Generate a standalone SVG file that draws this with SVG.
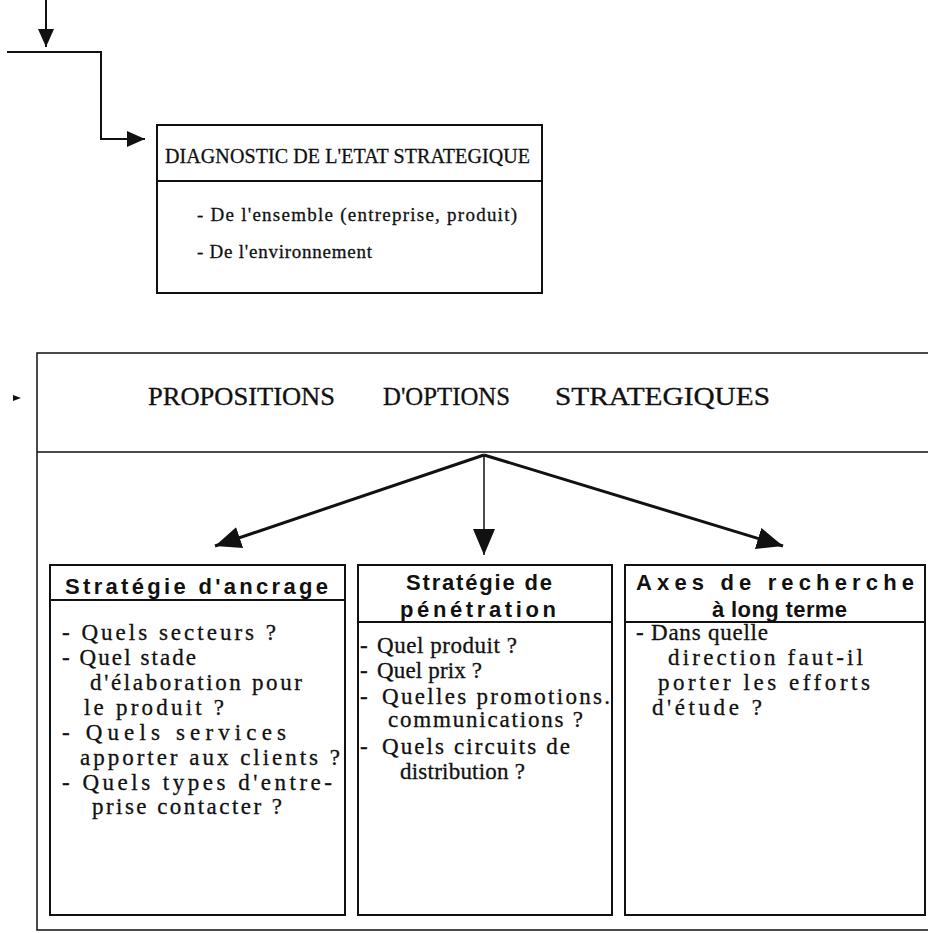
<svg xmlns="http://www.w3.org/2000/svg" width="928" height="933" viewBox="0 0 928 933">
<style>
  .box{fill:none;stroke:#111;stroke-width:2}
  .thin{fill:none;stroke:#111;stroke-width:1.5}
  .serif{font-family:"Liberation Serif","Times New Roman",serif;fill:#111;stroke:#111;stroke-width:0.3}
  .sans{font-family:"Liberation Sans",Arial,sans-serif;font-weight:bold;fill:#111;font-size:22px}
  .body{font-size:23px}
  .con{fill:none;stroke:#111}
</style>
<defs>
  <marker id="head" markerUnits="userSpaceOnUse" markerWidth="30" markerHeight="24" refX="26" refY="11" orient="auto">
    <path d="M0,0 L26,11 L0,22 Z" fill="#111"/>
  </marker>
  <marker id="headS" markerUnits="userSpaceOnUse" markerWidth="22" markerHeight="18" refX="18" refY="8" orient="auto">
    <path d="M0,0 L18,8 L0,16 Z" fill="#111"/>
  </marker>
</defs>
<rect width="928" height="933" fill="#fff"/>

<g id="connectors">
  <line class="con" stroke-width="2" x1="46" y1="0" x2="46" y2="47" marker-end="url(#headS)"/>
  <polyline class="con" stroke-width="2" points="7,52 101,52 101,139 145,139" marker-end="url(#headS)"/>
  <line class="con" stroke-width="3" x1="484" y1="455" x2="215" y2="546" marker-end="url(#head)"/>
  <line class="con" stroke-width="1.5" x1="484" y1="455" x2="484" y2="555" marker-end="url(#head)"/>
  <line class="con" stroke-width="3" x1="484" y1="455" x2="783" y2="546" marker-end="url(#head)"/>
  <path d="M13,395 L21,398 L13,401 Z" fill="#111"/>
</g>

<g id="diagnostic">
  <rect class="box" x="157" y="125" width="385" height="168"/>
  <line class="box" x1="157" y1="181" x2="542" y2="181"/>
  <text class="serif" x="165" y="163" font-size="20" textLength="365" lengthAdjust="spacing">DIAGNOSTIC DE L'ETAT STRATEGIQUE</text>
  <text class="serif" x="197" y="221" font-size="19" textLength="320" lengthAdjust="spacing">- De l'ensemble (entreprise, produit)</text>
  <text class="serif" x="197" y="258" font-size="19" textLength="175" lengthAdjust="spacing">- De l'environnement</text>
</g>

<g id="propositions">
  <path class="thin" d="M928,353 L37,353 L37,930 L928,930"/>
  <line class="thin" x1="37" y1="452" x2="928" y2="452"/>
  <text class="serif" y="405" font-size="26"><tspan x="148" textLength="187" lengthAdjust="spacingAndGlyphs">PROPOSITIONS</tspan> <tspan x="383" textLength="127" lengthAdjust="spacingAndGlyphs">D'OPTIONS</tspan> <tspan x="555" textLength="215" lengthAdjust="spacingAndGlyphs">STRATEGIQUES</tspan></text>
</g>

<g id="ancrage">
  <rect class="box" x="50" y="565" width="295" height="350"/>
  <line class="box" x1="50" y1="600" x2="345" y2="600"/>
  <text class="sans" x="65" y="594" textLength="263" lengthAdjust="spacing">Stratégie d'ancrage</text>
  <g class="serif body">
    <text x="62" y="640" textLength="214" lengthAdjust="spacing">- Quels secteurs ?</text>
    <text x="62" y="665" textLength="134" lengthAdjust="spacing">- Quel stade</text>
    <text x="90" y="690" textLength="212" lengthAdjust="spacing">d'élaboration pour</text>
    <text x="84" y="715" textLength="140" lengthAdjust="spacing">le produit ?</text>
    <text x="62" y="740" textLength="224" lengthAdjust="spacing">- Quels services</text>
    <text x="80" y="765" textLength="260" lengthAdjust="spacing">apporter aux clients ?</text>
    <text x="62" y="790" textLength="270" lengthAdjust="spacing">- Quels types d'entre-</text>
    <text x="92" y="814" textLength="190" lengthAdjust="spacing">prise contacter ?</text>
  </g>
</g>

<g id="penetration">
  <rect class="box" x="358" y="565" width="254" height="350"/>
  <line class="box" x1="358" y1="622" x2="612" y2="622"/>
  <text class="sans" x="406" y="590" textLength="146" lengthAdjust="spacing">Stratégie de</text>
  <text class="sans" x="400" y="617" textLength="156" lengthAdjust="spacing">pénétration</text>
  <g class="serif body">
    <text y="653"><tspan x="360">- </tspan><tspan x="377" textLength="140" lengthAdjust="spacing">Quel produit ?</tspan></text>
    <text y="678"><tspan x="360">- </tspan><tspan x="377" textLength="105" lengthAdjust="spacing">Quel prix ?</tspan></text>
    <text y="704"><tspan x="360">- </tspan><tspan x="382" textLength="228" lengthAdjust="spacing">Quelles promotions.</tspan></text>
    <text x="388" y="727" textLength="195" lengthAdjust="spacing">communications ?</text>
    <text y="754"><tspan x="360">- </tspan><tspan x="382" textLength="188" lengthAdjust="spacing">Quels circuits de</tspan></text>
    <text x="400" y="779" textLength="125" lengthAdjust="spacing">distribution ?</text>
  </g>
</g>

<g id="recherche">
  <rect class="box" x="625" y="565" width="300" height="350"/>
  <line class="box" x1="625" y1="622" x2="925" y2="622"/>
  <text class="sans" x="636" y="590" textLength="278" lengthAdjust="spacing">Axes de recherche</text>
  <text class="sans" x="712" y="617" textLength="135" lengthAdjust="spacing">à long terme</text>
  <g class="serif body">
    <text x="636" y="640" textLength="132" lengthAdjust="spacing">- Dans quelle</text>
    <text x="668" y="665" textLength="195" lengthAdjust="spacing">direction faut-il</text>
    <text x="658" y="690" textLength="212" lengthAdjust="spacing">porter les efforts</text>
    <text x="652" y="715" textLength="110" lengthAdjust="spacing">d'étude ?</text>
  </g>
</g>
</svg>
